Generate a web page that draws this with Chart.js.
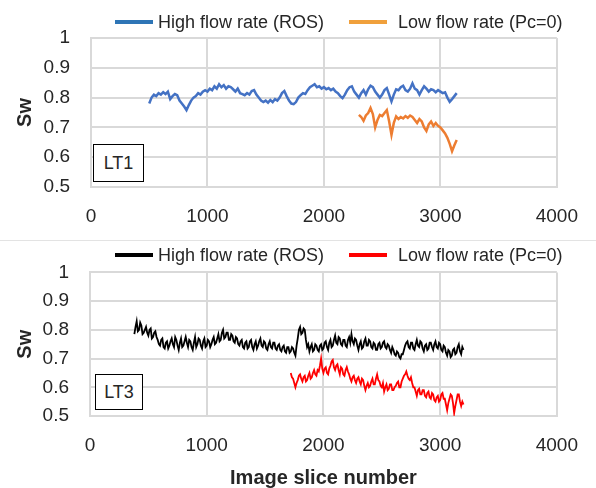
<!DOCTYPE html>
<html><head><meta charset="utf-8">
<script src="https://cdn.jsdelivr.net/npm/chart.js@4.4.1/dist/chart.umd.min.js"></script>
<style>
html,body{margin:0;padding:0;background:#fff;}
body{width:596px;height:488px;position:relative;overflow:hidden;font-family:"Liberation Sans",Arial,sans-serif;color:#262626;}
canvas{position:absolute;left:0;}
#c1{top:0;} #c2{top:240px;}
.sep{position:absolute;left:0;top:240px;width:596px;height:1px;background:#e3e3e3;}
.legtxt{position:absolute;font-size:18px;line-height:20px;white-space:nowrap;color:#262626;}
.legsw{position:absolute;height:4px;}
.tag{position:absolute;border:1px solid #000;background:#fff;font-size:18px;display:flex;align-items:center;justify-content:center;box-sizing:border-box;color:#262626;}
</style></head><body>
<canvas id="c1" width="596" height="240"></canvas>
<canvas id="c2" width="596" height="248"></canvas>
<div class="sep"></div>
<div id="legends"></div>
<div class="tag" style="left:93px;top:144px;width:51px;height:38px;">LT1</div>
<div class="tag" style="left:95px;top:374px;width:48px;height:36px;">LT3</div>
<script>
// ---------- data ----------
const X_TICKS = [0, 1000, 2000, 3000, 4000];
const Y_TICKS = [0.5, 0.6, 0.7, 0.8, 0.9, 1];
const SERIES_LABELS = ["High flow rate (ROS)", "Low flow rate (Pc=0)"];

// LT1 panel: sampled every 20 slices
const LT1_STEP = 20;
// LT1, high flow rate (ROS): slices 500..3140
const LT1_HIGH_FIRST = 500;
const LT1_HIGH_SW = [
 0.78,0.80,0.81,0.805,0.815,0.81,0.818,0.812,0.82,0.795,
 0.805,0.812,0.808,0.79,0.78,0.77,0.758,0.775,0.79,0.80,
 0.805,0.815,0.81,0.82,0.825,0.82,0.83,0.825,0.838,0.83,
 0.845,0.835,0.842,0.83,0.838,0.835,0.828,0.82,0.83,0.815,
 0.812,0.808,0.815,0.81,0.822,0.825,0.81,0.80,0.79,0.785,
 0.79,0.783,0.792,0.785,0.795,0.79,0.80,0.815,0.822,0.805,
 0.79,0.78,0.778,0.785,0.80,0.808,0.815,0.812,0.825,0.835,
 0.84,0.845,0.835,0.838,0.83,0.835,0.828,0.832,0.825,0.83,
 0.82,0.815,0.805,0.798,0.81,0.825,0.835,0.838,0.82,0.81,
 0.80,0.815,0.825,0.81,0.828,0.84,0.835,0.82,0.81,0.80,
 0.81,0.825,0.832,0.81,0.787,0.81,0.828,0.825,0.835,0.84,
 0.825,0.82,0.83,0.848,0.83,0.825,0.81,0.825,0.838,0.83,
 0.82,0.828,0.825,0.818,0.825,0.82,0.815,0.818,0.80,0.786,
 0.795,0.805,0.815];

// LT1, low flow rate (Pc=0): slices 2300..3140
const LT1_LOW_FIRST = 2300;
const LT1_LOW_SW = [
 0.742,0.735,0.722,0.74,0.748,0.765,0.745,0.70,0.725,0.742,
 0.738,0.748,0.758,0.72,0.675,0.715,0.737,0.728,0.735,0.73,
 0.738,0.732,0.74,0.735,0.725,0.715,0.728,0.72,0.70,0.688,
 0.71,0.72,0.705,0.715,0.705,0.70,0.69,0.68,0.665,0.645,
 0.62,0.64,0.658];

// LT3 panel: sampled every 10 slices
const LT3_STEP = 10;
// LT3, high flow rate (ROS): slices 380..3200
const LT3_HIGH_FIRST = 380;
const LT3_HIGH_SW = [
 0.785,0.81,0.83,0.795,0.80,0.825,0.815,0.785,0.79,0.80,0.81,0.79,0.78,0.80,0.805,0.77,0.775,0.79,0.795,0.775,
 0.765,0.75,0.745,0.765,0.77,0.74,0.735,0.755,0.76,0.735,0.745,0.76,0.77,0.75,0.74,0.775,0.765,0.745,0.73,0.755,
 0.77,0.74,0.745,0.76,0.775,0.755,0.74,0.765,0.76,0.74,0.73,0.755,0.775,0.74,0.75,0.77,0.765,0.745,0.735,0.76,
 0.77,0.74,0.745,0.765,0.76,0.74,0.75,0.765,0.775,0.75,0.755,0.77,0.785,0.76,0.765,0.79,0.80,0.77,0.775,0.79,
 0.79,0.765,0.765,0.785,0.78,0.76,0.755,0.775,0.77,0.75,0.745,0.76,0.765,0.74,0.735,0.755,0.76,0.735,0.74,0.76,
 0.765,0.74,0.73,0.75,0.76,0.735,0.745,0.76,0.77,0.745,0.74,0.76,0.755,0.735,0.73,0.75,0.76,0.74,0.735,0.755,
 0.755,0.735,0.73,0.745,0.75,0.73,0.725,0.74,0.745,0.725,0.72,0.74,0.74,0.72,0.725,0.74,0.735,0.72,0.71,0.745,
 0.77,0.80,0.81,0.785,0.79,0.805,0.80,0.765,0.74,0.75,0.725,0.74,0.75,0.725,0.73,0.75,0.745,0.73,0.725,0.745,
 0.75,0.73,0.735,0.755,0.76,0.74,0.73,0.755,0.765,0.74,0.745,0.765,0.78,0.755,0.75,0.775,0.77,0.75,0.745,0.765,
 0.765,0.745,0.74,0.765,0.775,0.755,0.785,0.76,0.75,0.77,0.765,0.745,0.73,0.75,0.76,0.735,0.74,0.76,0.77,0.745,
 0.745,0.765,0.76,0.74,0.735,0.755,0.75,0.73,0.73,0.75,0.755,0.735,0.74,0.755,0.76,0.74,0.735,0.75,0.745,0.73,
 0.72,0.74,0.73,0.715,0.71,0.725,0.72,0.705,0.70,0.715,0.715,0.73,0.745,0.755,0.76,0.74,0.735,0.755,0.755,0.735,
 0.73,0.75,0.765,0.745,0.74,0.76,0.755,0.735,0.725,0.745,0.75,0.73,0.735,0.755,0.755,0.74,0.73,0.75,0.76,0.74,
 0.735,0.755,0.75,0.73,0.725,0.745,0.74,0.72,0.71,0.73,0.725,0.705,0.71,0.73,0.735,0.715,0.72,0.74,0.75,0.725,
 0.715,0.74,0.73];

// LT3, low flow rate (Pc=0): slices 1720..3200
const LT3_LOW_FIRST = 1720;
const LT3_LOW_SW = [
 0.65,0.635,0.63,0.615,0.60,0.615,0.625,0.64,0.645,0.63,0.62,0.635,0.64,0.62,0.625,0.64,0.65,0.63,0.635,0.65,
 0.66,0.645,0.64,0.66,0.655,0.675,0.70,0.665,0.65,0.665,0.67,0.65,0.645,0.665,0.675,0.69,0.695,0.67,0.66,0.675,
 0.68,0.66,0.645,0.67,0.665,0.645,0.64,0.66,0.67,0.655,0.645,0.63,0.62,0.635,0.64,0.625,0.615,0.63,0.635,0.62,
 0.61,0.63,0.625,0.605,0.59,0.605,0.615,0.60,0.605,0.62,0.63,0.61,0.61,0.63,0.645,0.625,0.62,0.605,0.60,0.615,
 0.585,0.60,0.61,0.59,0.595,0.61,0.61,0.59,0.59,0.60,0.605,0.615,0.62,0.60,0.60,0.62,0.63,0.64,0.645,0.655,
 0.64,0.63,0.625,0.635,0.615,0.60,0.60,0.585,0.57,0.59,0.595,0.575,0.575,0.59,0.59,0.57,0.565,0.58,0.585,0.565,
 0.56,0.58,0.575,0.555,0.55,0.565,0.57,0.55,0.555,0.575,0.58,0.56,0.56,0.54,0.52,0.545,0.56,0.575,0.57,0.545,
 0.51,0.535,0.555,0.575,0.575,0.55,0.535,0.55,0.54];

// ---------- chart ----------
const FONT = '"Liberation Sans", Arial, sans-serif';
const TXT = '#262626';
const GRID = '#d9d9d9';

function toPoints(first, step, values) {
  return values.map((v, i) => ({ x: first + i * step, y: v }));
}

function makeOptions(cfg) {
  return {
    responsive: false,
    animation: false,
    devicePixelRatio: 1,
    layout: { padding: { top: cfg.top, right: 35, left: 0, bottom: 0 } },
    plugins: { legend: { display: false }, tooltip: { enabled: false } },
    elements: { point: { radius: 0 }, line: { tension: 0 } },
    scales: {
      x: {
        type: 'linear', min: X_TICKS[0], max: X_TICKS[X_TICKS.length - 1],
        afterBuildTicks: s => { s.ticks = X_TICKS.map(v => ({ value: v })); },
        ticks: { padding: 18, maxRotation: 0, autoSkip: false, color: TXT,
                 font: { size: 19, family: FONT }, callback: v => String(v) },
        grid: { color: GRID, lineWidth: 2, drawTicks: false },
        border: { color: GRID, width: 2 },
        title: { display: !!cfg.xTitle, text: cfg.xTitle || '', color: TXT, padding: 0,
                 font: { size: 20, weight: 'bold', family: FONT, lineHeight: 1 } },
        afterFit: s => { s.height = cfg.xh; }
      },
      y: {
        min: Y_TICKS[0], max: Y_TICKS[Y_TICKS.length - 1],
        afterBuildTicks: s => { s.ticks = Y_TICKS.map(v => ({ value: v })); },
        ticks: { padding: 21, autoSkip: false, color: TXT, font: { size: 19, family: FONT },
                 callback: v => String(Number(v.toFixed(1))) },
        grid: { color: GRID, lineWidth: 2, drawTicks: false },
        border: { color: GRID, width: 2 },
        title: { display: true, text: 'Sw', color: TXT, padding: { top: 13, bottom: 0 },
                 font: { size: 20, weight: 'bold', family: FONT, lineHeight: 1.2 } },
        afterFit: s => { s.width = cfg.yw; }
      }
    }
  };
}

const chart1 = new Chart(document.getElementById('c1'), {
  type: 'line',
  data: { datasets: [
    { label: SERIES_LABELS[0], data: toPoints(LT1_HIGH_FIRST, LT1_STEP, LT1_HIGH_SW),
      borderColor: '#4472C4', legendColor: '#2E75B6', borderWidth: 2.5, fill: false },
    { label: SERIES_LABELS[1], data: toPoints(LT1_LOW_FIRST, LT1_STEP, LT1_LOW_SW),
      borderColor: '#ED7D31', legendColor: '#F0A03C', borderWidth: 2.5, fill: false }
  ] },
  options: makeOptions({ top: 38, xh: 53, yw: 91 })
});

const chart2 = new Chart(document.getElementById('c2'), {
  type: 'line',
  data: { datasets: [
    { label: SERIES_LABELS[0], data: toPoints(LT3_HIGH_FIRST, LT3_STEP, LT3_HIGH_SW),
      borderColor: '#000000', legendColor: '#000000', borderWidth: 1.8, fill: false },
    { label: SERIES_LABELS[1], data: toPoints(LT3_LOW_FIRST, LT3_STEP, LT3_LOW_SW),
      borderColor: '#FF0000', legendColor: '#FF0000', borderWidth: 1.8, fill: false }
  ] },
  options: makeOptions({ top: 28, xh: 72, yw: 90, xTitle: 'Image slice number' })
});

// HTML legends built from the datasets
const LEG_SLOTS = [{ sw: 115, tx: 158 }, { sw: 349, tx: 398 }];
function buildLegend(chart, cy) {
  const host = document.getElementById('legends');
  chart.data.datasets.forEach((ds, i) => {
    const slot = LEG_SLOTS[i];
    const sw = document.createElement('div');
    sw.className = 'legsw';
    sw.style.left = slot.sw + 'px';
    sw.style.width = '38px';
    sw.style.top = (cy - 2) + 'px';
    sw.style.background = ds.legendColor;
    host.appendChild(sw);
    const t = document.createElement('div');
    t.className = 'legtxt';
    t.style.left = slot.tx + 'px';
    t.style.top = (cy - 10) + 'px';
    t.textContent = ds.label;
    host.appendChild(t);
  });
}
buildLegend(chart1, 22);
buildLegend(chart2, 255);
</script>
</body></html>
